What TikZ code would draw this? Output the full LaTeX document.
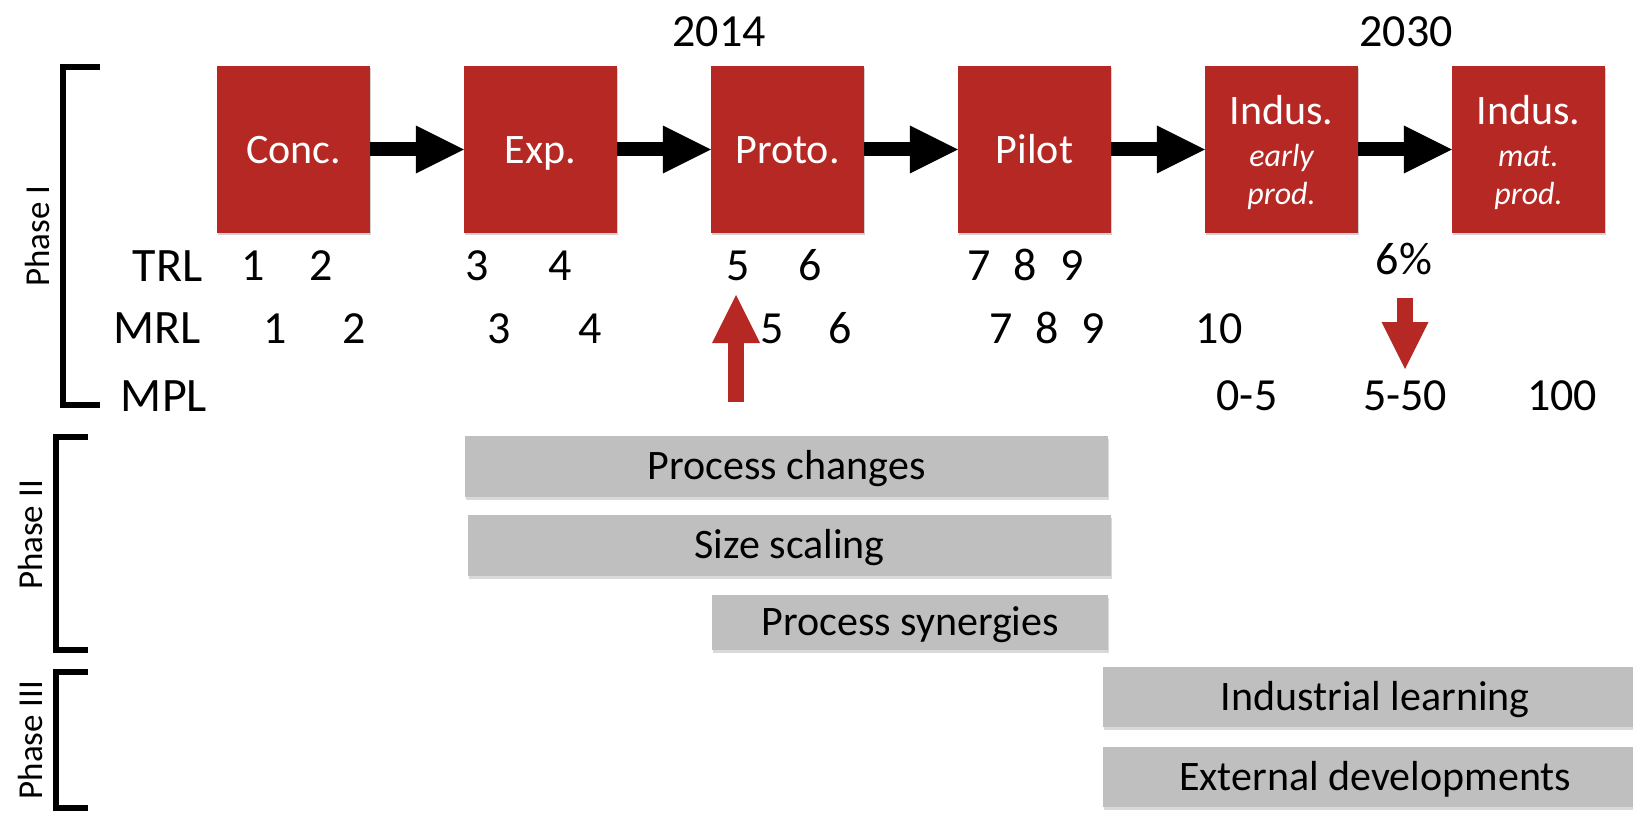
\documentclass[tikz,border=0pt]{standalone}
\usepackage{fontspec}
\setmainfont{Carlito}
\usetikzlibrary{arrows.meta,shadows,calc}
\definecolor{boxred}{RGB}{181,40,36}
\definecolor{bargray}{RGB}{191,191,191}
\newcommand\fsBox{\fontsize{42pt}{50pt}\selectfont}
\newcommand\fsRow{\fontsize{46pt}{54pt}\selectfont}
\newcommand\fsLab{\fontsize{48pt}{56pt}\selectfont}
\newcommand\fsPhase{\fontsize{35pt}{42pt}\selectfont}
\newcommand\fsIt{\fontsize{32pt}{38pt}\selectfont\itshape}
\tikzset{
  stage/.style={fill=boxred, draw=none, inner sep=0pt, minimum height=167pt, minimum width=153pt,
    drop shadow={shadow xshift=1pt, shadow yshift=-2.5pt, opacity=0.18, fill=black}},
  stagetxt/.style={text=white, font=\fsBox, anchor=base, inner sep=0pt},
  stageit/.style={text=white, font=\fsIt, anchor=base, inner sep=0pt},
  flow/.style={line width=14pt, draw=black,
    -{Triangle[length=48pt, width=48pt, line width=0pt]}},
  redarrow/.style={line width=16pt, draw=boxred, color=boxred,
    -{Triangle[length=48pt, width=48pt, line width=0pt]}},
  rowtxt/.style={font=\fsRow, anchor=base, inner sep=0pt},
  labtxt/.style={font=\fsLab, anchor=base, inner sep=0pt},
  phasetxt/.style={font=\fsPhase, rotate=90, anchor=base, inner sep=0pt},
  bracket/.style={line width=6pt, draw=black, line join=miter},
  bar/.style={fill=bargray, draw=none, inner sep=0pt, anchor=west,
    font=\fsBox, text height=26.5pt, text depth=0pt,
    drop shadow={shadow xshift=1pt, shadow yshift=-2.5pt, opacity=0.15, fill=black}},
}
\begin{document}
\begin{tikzpicture}[x=1pt,y=-1pt]
\useasboundingbox (0,0) rectangle (1633,813);
\clip (0,0) rectangle (1633,813);

% stage boxes
\node[stage] (conc)  at (293.5,149.5) {};
\node[stage] (exp)   at (540.5,149.5) {};
\node[stage] (proto) at (787.5,149.5) {};
\node[stage] (pilot) at (1034.5,149.5) {};
\node[stage] (ind1)  at (1281.5,149.5) {};
\node[stage] (ind2)  at (1528.5,149.5) {};

\node[stagetxt] (tconc)  at ($(conc.center)+(0,14.5)$) {Conc.};
\node[stagetxt] (texp)   at ($(exp.center)+(0,14.5)$) {Exp.};
\node[stagetxt] (tproto) at ($(proto.center)+(0,14.5)$) {Proto.};
\node[stagetxt] (tpilot) at ($(pilot.center)+(0,14.5)$) {Pilot};
\node[stagetxt] (tind1a) at ($(ind1.center)+(0,-24.5)$) {Indus.};
\node[stageit]  (tind1b) at ($(ind1.center)+(0,17.5)$) {early};
\node[stageit]  (tind1c) at ($(ind1.center)+(0,55.5)$) {prod.};
\node[stagetxt] (tind2a) at ($(ind2.center)+(0,-24.5)$) {Indus.};
\node[stageit]  (tind2b) at ($(ind2.center)+(0,17.5)$) {mat.};
\node[stageit]  (tind2c) at ($(ind2.center)+(0,55.5)$) {prod.};

% flow arrows
\draw[flow] (conc) -- (exp);
\draw[flow] (exp) -- (proto);
\draw[flow] (proto) -- (pilot);
\draw[flow] (pilot) -- (ind1);
\draw[flow] (ind1) -- (ind2);

% years
\node[rowtxt] (y2014) at (719,47) {2014};
\node[rowtxt] (y2030) at (1406,47) {2030};

% row labels
\node[labtxt] (trl) at (167.5,281) {TRL};
\node[labtxt] (mrl) at (157,343) {MRL};
\node[labtxt] (mpl) at (164,411) {MPL};

% TRL values
\node[rowtxt] (t1) at (253,280) {1};
\node[rowtxt] (t2) at (321.5,280) {2};
\node[rowtxt] (t3) at (477,280) {3};
\node[rowtxt] (t4) at (560,280) {4};
\node[rowtxt] (t5) at (738,280) {5};
\node[rowtxt] (t6) at (810,280) {6};
\node[rowtxt] (t7) at (979,280) {7};
\node[rowtxt] (t8) at (1025,280) {8};
\node[rowtxt] (t9) at (1072,280) {9};
\node[rowtxt] (pct) at (1404,274) {6\%};

% MRL values
\node[rowtxt] (m1) at (275,343) {1};
\node[rowtxt] (m2) at (354,343) {2};
\node[rowtxt] (m3) at (499,343) {3};
\node[rowtxt] (m4) at (590,343) {4};
\node[rowtxt] (m5) at (772,343) {5};
\node[rowtxt] (m6) at (840,343) {6};
\node[rowtxt] (m7) at (1001,343) {7};
\node[rowtxt] (m8) at (1047,343) {8};
\node[rowtxt] (m9) at (1093,343) {9};
\node[rowtxt] (m10) at (1219,343) {10};

% MPL values
\node[rowtxt] (p1) at (1247,410) {0-5};
\node[rowtxt] (p2) at (1405,410) {5-50};
\node[rowtxt] (p3) at (1562,410) {100};

% red arrows
\coordinate (upbase) at (736,402);
\coordinate (uptip) at (736,295);
\draw[redarrow] (upbase) -- (uptip);
\coordinate (dntop) at (1405,298);
\coordinate (dntip) at (1405,369);
\draw[redarrow, -{Triangle[length=47pt, width=47pt, line width=0pt]}] (dntop) -- (dntip);

% phase brackets
\draw[bracket] (100,67) -- (62.5,67) -- (62.5,405) -- (100,405);
\draw[bracket] (88,436.5) -- (56,436.5) -- (56,649.5) -- (88,649.5);
\draw[bracket] (88,672) -- (56,672) -- (56,807.5) -- (88,807.5);
\node[phasetxt] (ph1) at (49,236) {Phase I};
\node[phasetxt] (ph2) at (42,535) {Phase II};
\node[phasetxt] (ph3) at (42,740) {Phase III};

% bars
\node[bar, minimum width=643pt, minimum height=61pt] (b1) at (465,466.5) {Process changes};
\node[bar, minimum width=643pt, minimum height=61pt] (b2) at (468,545.5) {Size scaling};
\node[bar, minimum width=396pt, minimum height=55pt] (b3) at (712,622.5) {Process synergies};
\node[bar, minimum width=544pt, minimum height=60pt] (b4) at (1103,697) {Industrial learning};
\node[bar, minimum width=544pt, minimum height=60pt] (b5) at (1103,777) {External developments};
\end{tikzpicture}
\end{document}
